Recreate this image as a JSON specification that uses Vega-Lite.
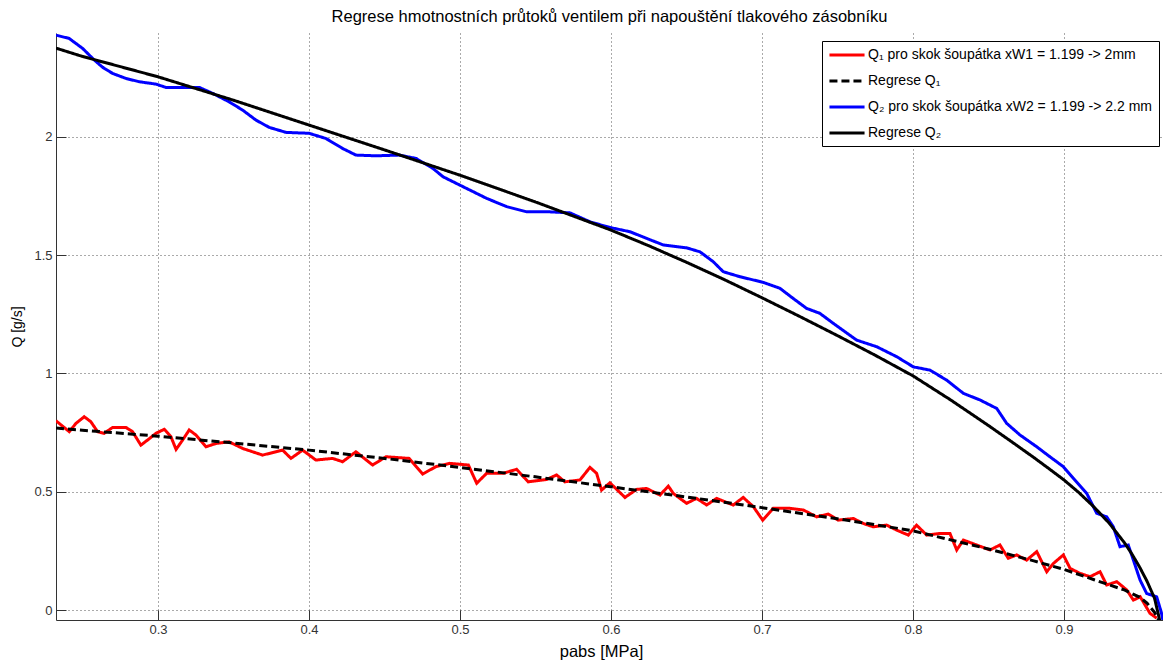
{
"$schema": "https://vega.github.io/schema/vega-lite/v6.json",
"width": 1107, "height": 587,
"autosize": {"type": "none"},
"padding": {"left": 56, "top": 33, "right": 0, "bottom": 43},
"background": "white",
"title": {"text": "Regrese hmotnostních průtoků ventilem při napouštění tlakového zásobníku", "fontSize": 16.5, "fontWeight": "normal", "font": "Liberation Sans", "color": "#000", "offset": 8, "anchor": "middle"},
"config": {
  "view": {"stroke": null},
  "font": "Liberation Sans",
  "axis": {"grid": true, "gridColor": "#555", "gridDash": [1, 3], "gridOpacity": 1, "gridWidth": 1, "domainColor": "#333", "domainWidth": 1, "tickColor": "#333", "ticks": true, "tickSize": -10, "labelFont": "Liberation Sans", "labelFontSize": 13, "labelColor": "#333", "titleFont": "Liberation Sans", "titleColor": "#000", "titleFontWeight": "normal"},
  "legend": {"symbolType": "M-2.7,0H2.7", "symbolSize": 169, "symbolOffset": 11, "symbolStrokeWidth": 3, "labelFont": "Liberation Sans", "labelFontSize": 14, "labelOffset": 13, "labelColor": "#000", "labelLimit": 500, "strokeColor": "#000", "fillColor": "#fff", "padding": 6, "rowPadding": 11, "cornerRadius": 0}
},
"data": {"values": [
{"s":"Q1","p":0.2325,"Q":0.800},{"s":"Q1","p":0.2413,"Q":0.754},{"s":"Q1","p":0.2457,"Q":0.789},{"s":"Q1","p":0.2512,"Q":0.817},{"s":"Q1","p":0.2556,"Q":0.796},{"s":"Q1","p":0.26,"Q":0.754},{"s":"Q1","p":0.2644,"Q":0.747},{"s":"Q1","p":0.27,"Q":0.772},{"s":"Q1","p":0.2788,"Q":0.772},{"s":"Q1","p":0.2832,"Q":0.754},{"s":"Q1","p":0.2887,"Q":0.697},{"s":"Q1","p":0.2932,"Q":0.719},{"s":"Q1","p":0.2987,"Q":0.747},{"s":"Q1","p":0.3042,"Q":0.764},{"s":"Q1","p":0.3086,"Q":0.733},{"s":"Q1","p":0.312,"Q":0.679},{"s":"Q1","p":0.3164,"Q":0.719},{"s":"Q1","p":0.3207,"Q":0.761},{"s":"Q1","p":0.3252,"Q":0.740},{"s":"Q1","p":0.3318,"Q":0.690},{"s":"Q1","p":0.3384,"Q":0.704},{"s":"Q1","p":0.3472,"Q":0.711},{"s":"Q1","p":0.3561,"Q":0.683},{"s":"Q1","p":0.3693,"Q":0.655},{"s":"Q1","p":0.3826,"Q":0.676},{"s":"Q1","p":0.3881,"Q":0.641},{"s":"Q1","p":0.3958,"Q":0.676},{"s":"Q1","p":0.4046,"Q":0.634},{"s":"Q1","p":0.4157,"Q":0.641},{"s":"Q1","p":0.4223,"Q":0.627},{"s":"Q1","p":0.4311,"Q":0.669},{"s":"Q1","p":0.4422,"Q":0.613},{"s":"Q1","p":0.451,"Q":0.648},{"s":"Q1","p":0.4664,"Q":0.641},{"s":"Q1","p":0.4753,"Q":0.575},{"s":"Q1","p":0.4841,"Q":0.606},{"s":"Q1","p":0.4934,"Q":0.620},{"s":"Q1","p":0.5056,"Q":0.613},{"s":"Q1","p":0.5111,"Q":0.536},{"s":"Q1","p":0.5177,"Q":0.578},{"s":"Q1","p":0.5287,"Q":0.578},{"s":"Q1","p":0.5375,"Q":0.595},{"s":"Q1","p":0.5452,"Q":0.542},{"s":"Q1","p":0.5574,"Q":0.552},{"s":"Q1","p":0.564,"Q":0.571},{"s":"Q1","p":0.5695,"Q":0.542},{"s":"Q1","p":0.5795,"Q":0.550},{"s":"Q1","p":0.5861,"Q":0.603},{"s":"Q1","p":0.5905,"Q":0.578},{"s":"Q1","p":0.5938,"Q":0.507},{"s":"Q1","p":0.5993,"Q":0.538},{"s":"Q1","p":0.6093,"Q":0.476},{"s":"Q1","p":0.617,"Q":0.510},{"s":"Q1","p":0.6236,"Q":0.514},{"s":"Q1","p":0.6325,"Q":0.486},{"s":"Q1","p":0.638,"Q":0.524},{"s":"Q1","p":0.6413,"Q":0.493},{"s":"Q1","p":0.6501,"Q":0.451},{"s":"Q1","p":0.6567,"Q":0.472},{"s":"Q1","p":0.6634,"Q":0.444},{"s":"Q1","p":0.67,"Q":0.472},{"s":"Q1","p":0.681,"Q":0.444},{"s":"Q1","p":0.6876,"Q":0.476},{"s":"Q1","p":0.6943,"Q":0.437},{"s":"Q1","p":0.7005,"Q":0.380},{"s":"Q1","p":0.7075,"Q":0.430},{"s":"Q1","p":0.7185,"Q":0.430},{"s":"Q1","p":0.7274,"Q":0.423},{"s":"Q1","p":0.7362,"Q":0.394},{"s":"Q1","p":0.7439,"Q":0.406},{"s":"Q1","p":0.7505,"Q":0.380},{"s":"Q1","p":0.7605,"Q":0.387},{"s":"Q1","p":0.7671,"Q":0.366},{"s":"Q1","p":0.7737,"Q":0.352},{"s":"Q1","p":0.7826,"Q":0.359},{"s":"Q1","p":0.7892,"Q":0.338},{"s":"Q1","p":0.7969,"Q":0.317},{"s":"Q1","p":0.8024,"Q":0.359},{"s":"Q1","p":0.8091,"Q":0.317},{"s":"Q1","p":0.8179,"Q":0.324},{"s":"Q1","p":0.8245,"Q":0.324},{"s":"Q1","p":0.829,"Q":0.254},{"s":"Q1","p":0.8334,"Q":0.296},{"s":"Q1","p":0.8422,"Q":0.275},{"s":"Q1","p":0.851,"Q":0.254},{"s":"Q1","p":0.8576,"Q":0.275},{"s":"Q1","p":0.8631,"Q":0.219},{"s":"Q1","p":0.8687,"Q":0.233},{"s":"Q1","p":0.8753,"Q":0.211},{"s":"Q1","p":0.882,"Q":0.247},{"s":"Q1","p":0.8886,"Q":0.162},{"s":"Q1","p":0.893,"Q":0.197},{"s":"Q1","p":0.8996,"Q":0.233},{"s":"Q1","p":0.9041,"Q":0.176},{"s":"Q1","p":0.9107,"Q":0.155},{"s":"Q1","p":0.9173,"Q":0.141},{"s":"Q1","p":0.9239,"Q":0.162},{"s":"Q1","p":0.9283,"Q":0.106},{"s":"Q1","p":0.935,"Q":0.120},{"s":"Q1","p":0.9416,"Q":0.085},{"s":"Q1","p":0.946,"Q":0.042},{"s":"Q1","p":0.9505,"Q":0.056},{"s":"Q1","p":0.957,"Q":-0.014},{"s":"Q1","p":0.9614,"Q":-0.034},
{"s":"R1","p":0.2325,"Q":0.769},{"s":"R1","p":0.25,"Q":0.760},{"s":"R1","p":0.3,"Q":0.735},{"s":"R1","p":0.35,"Q":0.706},{"s":"R1","p":0.4,"Q":0.676},{"s":"R1","p":0.45,"Q":0.641},{"s":"R1","p":0.5,"Q":0.603},{"s":"R1","p":0.55,"Q":0.563},{"s":"R1","p":0.6,"Q":0.521},{"s":"R1","p":0.65,"Q":0.478},{"s":"R1","p":0.7,"Q":0.433},{"s":"R1","p":0.75,"Q":0.386},{"s":"R1","p":0.8,"Q":0.335},{"s":"R1","p":0.85,"Q":0.258},{"s":"R1","p":0.88,"Q":0.208},{"s":"R1","p":0.9,"Q":0.172},{"s":"R1","p":0.92,"Q":0.128},{"s":"R1","p":0.94,"Q":0.085},{"s":"R1","p":0.95,"Q":0.055},{"s":"R1","p":0.955,"Q":0.03},{"s":"R1","p":0.96,"Q":-0.01},{"s":"R1","p":0.963,"Q":-0.045},
{"s":"Q2","p":0.2325,"Q":2.43},{"s":"Q2","p":0.2412,"Q":2.416},{"s":"Q2","p":0.2501,"Q":2.374},{"s":"Q2","p":0.2578,"Q":2.325},{"s":"Q2","p":0.2634,"Q":2.294},{"s":"Q2","p":0.27,"Q":2.268},{"s":"Q2","p":0.2788,"Q":2.247},{"s":"Q2","p":0.2876,"Q":2.233},{"s":"Q2","p":0.2987,"Q":2.223},{"s":"Q2","p":0.3053,"Q":2.209},{"s":"Q2","p":0.3164,"Q":2.209},{"s":"Q2","p":0.3274,"Q":2.209},{"s":"Q2","p":0.3362,"Q":2.184},{"s":"Q2","p":0.3472,"Q":2.148},{"s":"Q2","p":0.3561,"Q":2.113},{"s":"Q2","p":0.3649,"Q":2.071},{"s":"Q2","p":0.3737,"Q":2.04},{"s":"Q2","p":0.3848,"Q":2.019},{"s":"Q2","p":0.4002,"Q":2.015},{"s":"Q2","p":0.4113,"Q":1.993},{"s":"Q2","p":0.4223,"Q":1.951},{"s":"Q2","p":0.4311,"Q":1.923},{"s":"Q2","p":0.4444,"Q":1.920},{"s":"Q2","p":0.4598,"Q":1.923},{"s":"Q2","p":0.4709,"Q":1.909},{"s":"Q2","p":0.482,"Q":1.867},{"s":"Q2","p":0.4889,"Q":1.831},{"s":"Q2","p":0.5044,"Q":1.782},{"s":"Q2","p":0.5177,"Q":1.740},{"s":"Q2","p":0.531,"Q":1.705},{"s":"Q2","p":0.5442,"Q":1.683},{"s":"Q2","p":0.5596,"Q":1.683},{"s":"Q2","p":0.5728,"Q":1.679},{"s":"Q2","p":0.5861,"Q":1.641},{"s":"Q2","p":0.5993,"Q":1.617},{"s":"Q2","p":0.6126,"Q":1.599},{"s":"Q2","p":0.6236,"Q":1.571},{"s":"Q2","p":0.6347,"Q":1.543},{"s":"Q2","p":0.6501,"Q":1.531},{"s":"Q2","p":0.659,"Q":1.514},{"s":"Q2","p":0.6678,"Q":1.472},{"s":"Q2","p":0.6744,"Q":1.430},{"s":"Q2","p":0.6854,"Q":1.409},{"s":"Q2","p":0.7009,"Q":1.385},{"s":"Q2","p":0.7119,"Q":1.360},{"s":"Q2","p":0.7207,"Q":1.317},{"s":"Q2","p":0.7296,"Q":1.275},{"s":"Q2","p":0.7384,"Q":1.254},{"s":"Q2","p":0.7472,"Q":1.212},{"s":"Q2","p":0.7627,"Q":1.141},{"s":"Q2","p":0.776,"Q":1.113},{"s":"Q2","p":0.7892,"Q":1.071},{"s":"Q2","p":0.8002,"Q":1.028},{"s":"Q2","p":0.8113,"Q":1.014},{"s":"Q2","p":0.8223,"Q":0.972},{"s":"Q2","p":0.8334,"Q":0.916},{"s":"Q2","p":0.8444,"Q":0.888},{"s":"Q2","p":0.8555,"Q":0.852},{"s":"Q2","p":0.8621,"Q":0.789},{"s":"Q2","p":0.8709,"Q":0.740},{"s":"Q2","p":0.882,"Q":0.690},{"s":"Q2","p":0.8907,"Q":0.648},{"s":"Q2","p":0.8996,"Q":0.606},{"s":"Q2","p":0.9062,"Q":0.557},{"s":"Q2","p":0.9151,"Q":0.493},{"s":"Q2","p":0.9217,"Q":0.409},{"s":"Q2","p":0.9283,"Q":0.394},{"s":"Q2","p":0.9327,"Q":0.352},{"s":"Q2","p":0.9371,"Q":0.268},{"s":"Q2","p":0.9426,"Q":0.275},{"s":"Q2","p":0.946,"Q":0.211},{"s":"Q2","p":0.9504,"Q":0.127},{"s":"Q2","p":0.9548,"Q":0.070},{"s":"Q2","p":0.9614,"Q":0.056},{"s":"Q2","p":0.9645,"Q":-0.01},{"s":"Q2","p":0.9656,"Q":-0.045},
{"s":"R2","p":0.2325,"Q":2.375},{"s":"R2","p":0.25,"Q":2.34},{"s":"R2","p":0.3,"Q":2.254},{"s":"R2","p":0.35,"Q":2.155},{"s":"R2","p":0.4,"Q":2.05},{"s":"R2","p":0.45,"Q":1.945},{"s":"R2","p":0.5,"Q":1.838},{"s":"R2","p":0.55,"Q":1.725},{"s":"R2","p":0.6,"Q":1.606},{"s":"R2","p":0.625,"Q":1.54},{"s":"R2","p":0.65,"Q":1.47},{"s":"R2","p":0.675,"Q":1.397},{"s":"R2","p":0.7,"Q":1.32},{"s":"R2","p":0.725,"Q":1.241},{"s":"R2","p":0.75,"Q":1.16},{"s":"R2","p":0.775,"Q":1.077},{"s":"R2","p":0.8,"Q":0.99},{"s":"R2","p":0.825,"Q":0.888},{"s":"R2","p":0.85,"Q":0.78},{"s":"R2","p":0.865,"Q":0.713},{"s":"R2","p":0.88,"Q":0.645},{"s":"R2","p":0.89,"Q":0.598},{"s":"R2","p":0.9,"Q":0.55},{"s":"R2","p":0.91,"Q":0.496},{"s":"R2","p":0.92,"Q":0.435},{"s":"R2","p":0.93,"Q":0.367},{"s":"R2","p":0.94,"Q":0.285},{"s":"R2","p":0.945,"Q":0.237},{"s":"R2","p":0.95,"Q":0.183},{"s":"R2","p":0.955,"Q":0.122},{"s":"R2","p":0.96,"Q":0.05},{"s":"R2","p":0.9635,"Q":-0.045}
]},
"encoding": {
  "x": {"field": "p", "type": "quantitative", "scale": {"domain": [0.2325, 0.9656], "nice": false, "zero": false}, "axis": {"values": [0.3, 0.4, 0.5, 0.6, 0.7, 0.8, 0.9], "format": "~g", "labelPadding": 13, "title": "pabs [MPa]", "titleFontSize": 16.5, "titleX": 545, "titleY": 36, "titleBaseline": "alphabetic"}},
  "y": {"field": "Q", "type": "quantitative", "scale": {"domain": [-0.042, 2.439], "nice": false, "zero": false}, "axis": {"values": [0, 0.5, 1, 1.5, 2], "format": "~g", "labelPadding": 14, "title": "Q [g/s]", "titleFontSize": 14, "titleX": -39, "titleY": 293.5, "titleBaseline": "middle", "titleAngle": -90}},
  "color": {"field": "s", "type": "nominal", "scale": {"domain": ["Q1", "R1", "Q2", "R2"], "range": ["#ff0000", "#000000", "#0000ff", "#000000"]}, "legend": {"title": null, "orient": "none", "legendX": 766, "legendY": 8, "labelExpr": "datum.value === 'Q1' ? 'Q₁ pro skok šoupátka xW1 = 1.199 -> 2mm' : datum.value === 'R1' ? 'Regrese Q₁' : datum.value === 'Q2' ? 'Q₂ pro skok šoupátka xW2 = 1.199 -> 2.2 mm' : 'Regrese Q₂'"}},
  "strokeDash": {"field": "s", "type": "nominal", "scale": {"domain": ["Q1", "R1", "Q2", "R2"], "range": [[1, 0], [8, 4], [1, 0], [1, 0]]}, "legend": {"title": null, "orient": "none", "legendX": 766, "legendY": 8, "labelExpr": "datum.value === 'Q1' ? 'Q₁ pro skok šoupátka xW1 = 1.199 -> 2mm' : datum.value === 'R1' ? 'Regrese Q₁' : datum.value === 'Q2' ? 'Q₂ pro skok šoupátka xW2 = 1.199 -> 2.2 mm' : 'Regrese Q₂'"}}
},
"layer": [
  {"transform": [{"filter": "datum.s === 'Q1'"}], "mark": {"type": "line", "strokeWidth": 3, "clip": true}},
  {"transform": [{"filter": "datum.s === 'R1'"}], "mark": {"type": "line", "strokeWidth": 3, "clip": true}},
  {"transform": [{"filter": "datum.s === 'Q2'"}], "mark": {"type": "line", "strokeWidth": 3, "clip": true}},
  {"transform": [{"filter": "datum.s === 'R2'"}], "mark": {"type": "line", "strokeWidth": 3, "clip": true}}
]
}
